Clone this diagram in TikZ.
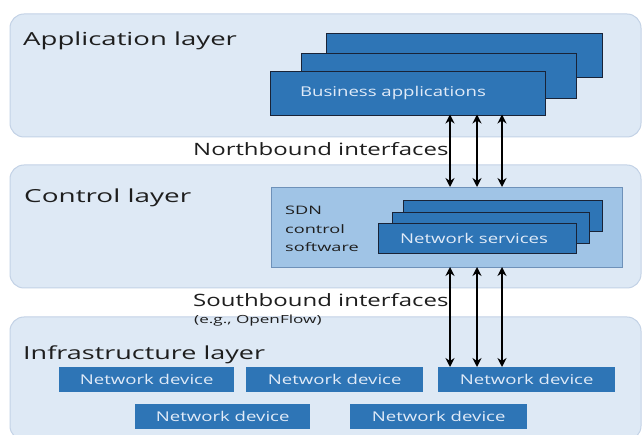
\documentclass[tikz,border=0pt]{standalone}
\usepackage{fontspec}
\setmainfont{Open Sans}
\usepackage{graphicx}
\usetikzlibrary{arrows.meta}
\definecolor{layerfill}{RGB}{222,233,245}
\definecolor{layerdraw}{RGB}{195,210,230}
\definecolor{sdnfill}{RGB}{160,196,230}
\definecolor{sdndraw}{RGB}{110,145,185}
\definecolor{boxblue}{RGB}{46,117,182}
\definecolor{boxdraw}{RGB}{25,35,55}
\definecolor{boxtext}{RGB}{225,235,248}
\definecolor{ink}{RGB}{30,30,30}
\newcommand{\sx}[2][1.3]{\scalebox{#1}[1]{#2}}
\begin{document}
\begin{tikzpicture}[x=1pt,y=-1pt,
  layer/.style={draw=layerdraw,fill=layerfill,line width=1pt,rounded corners=14pt},
  stackbox/.style={draw=boxdraw,fill=boxblue,line width=1pt},
  device/.style={fill=boxblue},
  title/.style={anchor=base west,text=ink,font=\fontsize{18}{20}\selectfont,inner sep=0pt},
  label/.style={anchor=base west,text=ink,font=\fontsize{17}{19}\selectfont,inner sep=0pt},
  sdnlabel/.style={anchor=base west,text=ink,font=\fontsize{11.7}{13}\selectfont,inner sep=0pt},
  boxlabel/.style={text=boxtext,font=\fontsize{13.5}{15}\selectfont,inner sep=0pt},
  biarrow/.style={{Stealth[length=9pt,width=9pt,inset=3pt]}-{Stealth[length=9pt,width=9pt,inset=3pt]},line width=2pt,black}
]
\useasboundingbox (0,0) rectangle (643,435);
\fill[white] (0,0) rectangle (643,435);
% layers
\path[layer] (10,14) rectangle (641,137);
\path[layer] (10,165) rectangle (641,288);
\path[layer] (10,317) rectangle (641,440);
\node[title] (apptitle) at (23,46) {\sx[1.53]{Application layer}};
\node[title] (ctltitle) at (24,202.7) {\sx[1.55]{Control layer}};
\node[title] (inftitle) at (23,360) {\sx[1.5]{Infrastructure layer}};
% business applications
\node[stackbox,minimum width=276pt,minimum height=44pt,anchor=north west] (ba3) at (326,33) {};
\node[stackbox,minimum width=275pt,minimum height=45pt,anchor=north west] (ba2) at (301,53) {};
\node[stackbox,minimum width=275pt,minimum height=44pt,anchor=north west] (ba1) at (270,71) {};
\node[boxlabel] (batext) at (393,93) {\sx[1.376]{Business applications}};
% SDN control software
\node[draw=sdndraw,fill=sdnfill,line width=1pt,minimum width=351pt,minimum height=80pt,anchor=north west] (sdn) at (271,187) {};
\node[sdnlabel] (sdn1) at (285,215) {\sx[1.55]{SDN}};
\node[sdnlabel] (sdn2) at (285,233.5) {\sx[1.55]{control}};
\node[sdnlabel] (sdn3) at (285,252) {\sx[1.55]{software}};
\node[stackbox,minimum width=199pt,minimum height=31pt,anchor=north west] (ns3) at (403,200) {};
\node[stackbox,minimum width=197pt,minimum height=31pt,anchor=north west] (ns2) at (392,212) {};
\node[stackbox,minimum width=198pt,minimum height=30pt,anchor=north west] (ns1) at (378,223) {};
\node[boxlabel] (nstext) at (474,238) {\sx[1.376]{Network services}};
% interfaces labels
\node[label] (north) at (193,155.7) {\sx[1.41]{Northbound interfaces}};
\node[label] (south) at (193,307) {\sx[1.41]{Southbound interfaces}};
\node[anchor=base west,text=ink,font=\fontsize{11.2}{13}\selectfont,inner sep=0pt] (eg) at (194,324) {\sx[1.53]{(e.g., OpenFlow)}};
% network devices
\node[device,minimum width=175pt,minimum height=25pt,anchor=north west] (d1) at (59,367) {};
\node[device,minimum width=177pt,minimum height=25pt,anchor=north west] (d2) at (246,367) {};
\node[device,minimum width=177pt,minimum height=25pt,anchor=north west] (d3) at (438,367) {};
\node[device,minimum width=175pt,minimum height=25pt,anchor=north west] (d4) at (135,404) {};
\node[device,minimum width=177pt,minimum height=25pt,anchor=north west] (d5) at (350,404) {};
\foreach \d in {d1,d2,d3,d4,d5}{\node[boxlabel] at (\d.center) {\sx[1.376]{Network device}};}
% arrows
\foreach \x in {450,477,502}{
  \draw[biarrow] (\x,114.5) -- (\x,187);
  \draw[biarrow] (\x,267) -- (\x,367);
}
\end{tikzpicture}
\end{document}
